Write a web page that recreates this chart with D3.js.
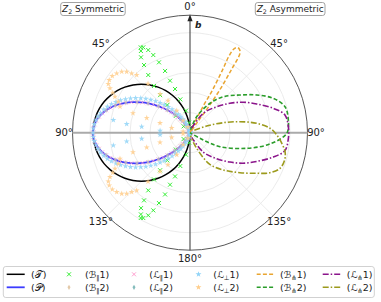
<!DOCTYPE html>
<html>
<head>
<meta charset="utf-8">
<script src="https://cdn.jsdelivr.net/npm/d3@7"></script>
<style>
body { margin: 0; background: #fff; }
text { font-family: "DejaVu Sans", sans-serif; fill: #222; }
</style>
</head>
<body>
<svg id="chart" width="381" height="302"></svg>
<script>
// polar angles in degrees from the b axis, radii in plot units
var angleTicks = [0, 45, 90, 135, 180];

// Z2 symmetric side (left)
var tTheta = d3.range(0, 181, 5);
var tR = [0, .085, .168, .251, .332, .41, .485, .556, .624, .686, .743, .795, .84, .879, .912, .937, .955, .966, .97,
  .966, .955, .937, .912, .879, .84, .795, .743, .686, .624, .556, .485, .41, .332, .251, .168, .085, 0];

var pTheta = d3.range(0, 180.01, 2.5);
var pR = [0, 0, 0, .001, .004, .007, .013, .021, .031, .045, .062, .082, .106, .133, .164, .198, .236, .277, .32, .366,
  .413, .462, .512, .563, .612, .661, .708, .753, .795, .834, .868, .898, .924, .944, .958, .967, .97,
  .967, .958, .944, .924, .898, .868, .834, .795, .753, .708, .661, .612, .563, .512, .462, .413, .366, .32,
  .277, .236, .198, .164, .133, .106, .082, .062, .045, .031, .021, .013, .007, .004, .001, 0, 0, 0];

var bpar1 = [[5, .1], [10.3, .224], [16.2, .347], [18.9, .462], [21, .557], [22, .666], [23.8, .769], [25.3, .859],
  [26.8, .926], [28.7, .973], [30, .985], [31, .953], [33, .899], [34.2, .818], [35.9, .712], [37.6, .59],
  [38.5, .48], [39.3, .358], [40, .22], [45, .09],
  [175, .1], [169.7, .224], [163.8, .347], [161.1, .462], [159, .557], [158, .666], [156.2, .769], [154.7, .859],
  [153.2, .926], [151.3, .973], [150, .985], [149, .953], [147, .899], [145.8, .818], [144.1, .712], [142.4, .59],
  [141.5, .48], [140.7, .358], [140, .22], [135, .09]];

var bpar2R = [0, 0, .004, .013, .031, .062, .106, .164, .236, .32, .413, .512, .612, .708, .795, .868, .924, .958, .97,
  .958, .924, .868, .795, .708, .612, .512, .413, .32, .236, .164, .106, .062, .031, .013, .004, 0, 0];
var lpar2R = bpar2R.slice();

var lperp1R = [0, .001, .003, .007, .015, .025, .038, .054, .074, .097, .123, .152, .184, .218, .256, .295, .336, .379,
  .422, .467, .512, .557, .601, .645, .687, .727, .766, .802, .836, .866, .893, .916, .935, .95, .961, .968, .97,
  .968, .961, .95, .935, .916, .893, .866, .836, .802, .766, .727, .687, .645, .601, .557, .512, .467, .422,
  .379, .336, .295, .256, .218, .184, .152, .123, .097, .074, .054, .038, .025, .015, .007, .003, .001, 0];
var lperp1Inner = [[80.6, .777], [82.2, .639], [82.9, .487], [86, .3], [99.4, .777], [97.8, .639], [97.1, .487], [94, .3]];

var lperp2 = [[20, .06], [30, .139], [31, .257], [34.5, .388], [37.6, .49], [40.6, .645], [42.7, .786], [44.5, .832],
  [46.1, .879], [48.2, .916], [51, .943], [53.9, .962], [56.9, .964], [59.2, .951], [61, .915], [62.6, .87],
  [64.4, .832], [66.6, .781], [69.6, .747], [71.1, .603], [71.2, .457], [72.1, .315], [75.6, .189], [80, .07],
  [160, .06], [150, .139], [149, .257], [145.5, .388], [142.4, .49], [139.4, .645], [137.3, .786], [135.5, .832],
  [133.9, .879], [131.8, .916], [129, .943], [126.1, .962], [123.1, .964], [120.8, .951], [119, .915], [117.4, .87],
  [115.6, .832], [113.4, .781], [110.4, .747], [108.9, .603], [108.8, .457], [107.9, .315], [104.4, .189], [100, .07]];

// Z2 asymmetric side (right)
var bpf1 = [[0, 0], [24, .08], [26.5, .3], [27.8, .48], [27.4, .7], [27, .88], [27.8, .95], [29.2, .975], [30.8, .968],
  [32.2, .938], [33.3, .75], [34.8, .524], [35.6, .3], [35, .12], [30, 0]];
var bpf2 = [[10, .03], [22.7, .173], [34.2, .356], [42.8, .49], [53, .626], [60.5, .766], [67.6, .901], [74.7, .985],
  [82.6, .991], [90.4, .967], [98, .808], [105.4, .588], [115, .331], [118.8, .152], [125, 0]];
var lpf1 = [[20, .05], [34.4, .235], [45.8, .373], [53.7, .496], [60, .61], [66.7, .726], [73.7, .868], [79.4, .966],
  [86.5, .985], [93.5, .985], [100.6, .966], [106.3, .868], [113.3, .726], [120, .61], [126.3, .496], [134.2, .373],
  [145.6, .235], [160, .05]];
var lpf2 = [[60, .05], [68.1, .18], [73.3, .348], [77.6, .512], [82, .674], [86.8, .801], [90, .85], [94.6, .903],
  [101.3, .969], [106, .985], [111.6, .968], [116.6, .894], [121.3, .781], [128.7, .64], [138.2, .5], [148.2, .37],
  [158, .15], [170, .03]];

var color = {
  T: "#000000", P: "#3c3cff", bpar1: "#33ee33", bpar2: "#e3c9a8", lpar1: "#ff9fd0", lpar2: "#84bcbc",
  lperp1: "#8fd3f7", lperp2: "#ffcd8a", bpf1: "#e9a531", bpf2: "#2a9d2a", lpf1: "#8b158b", lpf2: "#9c9a1c"
};

var cx = 190, cy = 132.7, R = 117.5;
var svg = d3.select("#chart");
var rs = d3.scaleLinear().domain([0, 1.175]).range([0, R]);
var rad = Math.PI / 180;

var g = svg.append("g").attr("transform", "translate(" + cx + "," + cy + ")");

// grid
g.selectAll(".ring").data(rs.ticks(5).filter(function(d) { return d > 0; }))
  .enter().append("circle")
  .attr("r", function(d) { return rs(d); })
  .attr("fill", "none").attr("stroke", "#e6e6e6").attr("stroke-width", 0.8);

[45, 135, -45, -135].forEach(function(a) {
  g.append("line").attr("x1", 0).attr("y1", 0)
    .attr("x2", R * Math.sin(a * rad)).attr("y2", -R * Math.cos(a * rad))
    .attr("stroke", "#e6e6e6").attr("stroke-width", 0.8);
});

g.append("circle").attr("r", R).attr("fill", "none").attr("stroke", "#444").attr("stroke-width", 0.9);

g.append("line").attr("x1", -R).attr("x2", R).attr("y1", 0).attr("y2", 0)
  .attr("stroke", "#aaa").attr("stroke-width", 2);

g.append("line").attr("x1", 0).attr("x2", 0).attr("y1", R).attr("y2", -R + 5)
  .attr("stroke", "#444").attr("stroke-width", 1.1);
g.append("path").attr("d", "M0," + (-R - 1) + "L-2.6," + (-R + 6) + "L2.6," + (-R + 6) + "Z").attr("fill", "#222");
g.append("text").attr("x", 5).attr("y", -R + 13).attr("font-size", 9).attr("font-weight", "bold")
  .attr("font-style", "italic").text("b");

// angle labels
angleTicks.forEach(function(a) {
  var sides = (a === 0 || a === 180) ? [1] : [-1, 1];
  sides.forEach(function(s) {
    var rr = R + 8.5;
    g.append("text")
      .attr("x", s * rr * Math.sin(a * rad))
      .attr("y", -rr * Math.cos(a * rad))
      .attr("text-anchor", "middle").attr("dominant-baseline", "central")
      .attr("font-size", 10).text(a + "°");
  });
});

function line(side) {
  return d3.lineRadial()
    .angle(function(d) { return side * d[0] * rad; })
    .radius(function(d) { return rs(d[1]); })
    .curve(d3.curveCatmullRom);
}

function drawLine(pts, side, col, width, dash) {
  g.append("path").datum(pts).attr("d", line(side))
    .attr("fill", "none").attr("stroke", col).attr("stroke-width", width)
    .attr("stroke-dasharray", dash || null);
}

function markerPath(shape) {
  if (shape === "x") return "M-2,-2L2,2M-2,2L2,-2";
  if (shape === "d") return "M0,-2.6L1.5,0L0,2.6L-1.5,0Z";
  return d3.symbol(d3.symbolStar, 11)();
}

function drawMarkers(pts, side, shape, col, op) {
  g.append("g").selectAll("path").data(pts).enter().append("path")
    .attr("transform", function(d) {
      return "translate(" + side * rs(d[1]) * Math.sin(d[0] * rad) + "," + (-rs(d[1]) * Math.cos(d[0] * rad)) + ")";
    })
    .attr("d", markerPath(shape))
    .attr("fill", shape === "x" ? "none" : col)
    .attr("stroke", shape === "x" ? col : "none")
    .attr("stroke-width", 1)
    .attr("opacity", op);
}

function zip(th, r) { return th.map(function(t, i) { return [t, r[i]]; }); }

drawLine(zip(tTheta, tR), -1, color.T, 1.5);
drawLine(zip(pTheta, pR), -1, color.P, 1.8);
drawMarkers(bpar1, -1, "x", color.bpar1, 1);
drawMarkers(zip(tTheta, bpar2R), -1, "d", color.bpar2, 0.5);
drawMarkers(zip(pTheta, pR), -1, "x", color.lpar1, 0.7);
drawMarkers(zip(tTheta, lpar2R), -1, "d", color.lpar2, 0.4);
drawMarkers(zip(pTheta, lperp1R).concat(lperp1Inner), -1, "star", color.lperp1, 0.85);
drawMarkers(lperp2, -1, "star", color.lperp2, 0.85);

drawLine(bpf1, 1, color.bpf1, 1.5, "4,2.2");
drawLine(bpf2, 1, color.bpf2, 1.6, "4,2.2");
drawLine(lpf1, 1, color.lpf1, 1.6, "6,2,1.5,2");
drawLine(lpf2, 1, color.lpf2, 1.6, "6,2,1.5,2");

// title boxes
function titleBox(x0, w, word) {
  var b = svg.append("g");
  b.append("rect").attr("x", x0).attr("y", 2.5).attr("width", w)
    .attr("height", 13).attr("rx", 2.5).attr("fill", "#fff").attr("stroke", "#999").attr("stroke-width", 0.9);
  var t = b.append("text").attr("x", x0 + w / 2).attr("y", 12.4)
    .attr("text-anchor", "middle").attr("font-size", 9);
  t.append("tspan").attr("font-style", "italic").text("Z");
  t.append("tspan").attr("font-size", 6.3).attr("dy", 2).text("2");
  t.append("tspan").attr("dy", -2).text(" " + word);
}
titleBox(60.7, 64.5, "Symmetric");
titleBox(255.3, 69.7, "Asymmetric");

// legend
var legendItems = [
  { col: 0, row: 0, kind: "line", c: color.T, w: 1.5, label: ["(𝒯)"] },
  { col: 0, row: 1, kind: "line", c: color.P, w: 1.8, label: ["(𝒫)"] },
  { col: 1, row: 0, kind: "x", c: color.bpar1, label: ["(ℬ", "∥", "1)"] },
  { col: 1, row: 1, kind: "d", c: color.bpar2, label: ["(ℬ", "∥", "2)"] },
  { col: 2, row: 0, kind: "x", c: color.lpar1, label: ["(ℒ", "∥", "1)"] },
  { col: 2, row: 1, kind: "d", c: color.lpar2, label: ["(ℒ", "∥", "2)"] },
  { col: 3, row: 0, kind: "star", c: color.lperp1, label: ["(ℒ", "⊥", "1)"] },
  { col: 3, row: 1, kind: "star", c: color.lperp2, label: ["(ℒ", "⊥", "2)"] },
  { col: 4, row: 0, kind: "line", c: color.bpf1, w: 1.5, dash: "4,2.2", label: ["(ℬ", "⋔", "1)"] },
  { col: 4, row: 1, kind: "line", c: color.bpf2, w: 1.6, dash: "4,2.2", label: ["(ℬ", "⋔", "2)"] },
  { col: 5, row: 0, kind: "line", c: color.lpf1, w: 1.6, dash: "6,2,1.5,2", label: ["(ℒ", "⋔", "1)"] },
  { col: 5, row: 1, kind: "line", c: color.lpf2, w: 1.6, dash: "6,2,1.5,2", label: ["(ℒ", "⋔", "2)"] }
];
var colX = [6.7, 63, 128, 192.5, 256.7, 322.7];
var textX = [31, 85, 149.3, 213.3, 280, 346.7];
var rowY = [274.3, 287.3];

svg.append("rect").attr("x", 3.3).attr("y", 266.5).attr("width", 371).attr("height", 31).attr("rx", 2.5)
  .attr("fill", "#fff").attr("stroke", "#ccc").attr("stroke-width", 0.9);

legendItems.forEach(function(d) {
  var x = colX[d.col], y = rowY[d.row];
  if (d.kind === "line") {
    svg.append("line").attr("x1", x).attr("x2", x + 18).attr("y1", y).attr("y2", y)
      .attr("stroke", d.c).attr("stroke-width", d.w).attr("stroke-dasharray", d.dash || null);
  } else {
    svg.append("path").attr("transform", "translate(" + (x + 6) + "," + y + ")")
      .attr("d", markerPath(d.kind))
      .attr("fill", d.kind === "x" ? "none" : d.c)
      .attr("stroke", d.kind === "x" ? d.c : "none").attr("stroke-width", 1);
  }
  var t = svg.append("text").attr("x", textX[d.col]).attr("y", y + 3.5).attr("font-size", 9.5);
  t.append("tspan").text(d.label[0]);
  if (d.label.length > 1) {
    t.append("tspan").attr("font-size", 6.5).attr("dy", 2).text(d.label[1]);
    t.append("tspan").attr("dy", -2).text(d.label[2]);
  }
});
</script>
</body>
</html>
